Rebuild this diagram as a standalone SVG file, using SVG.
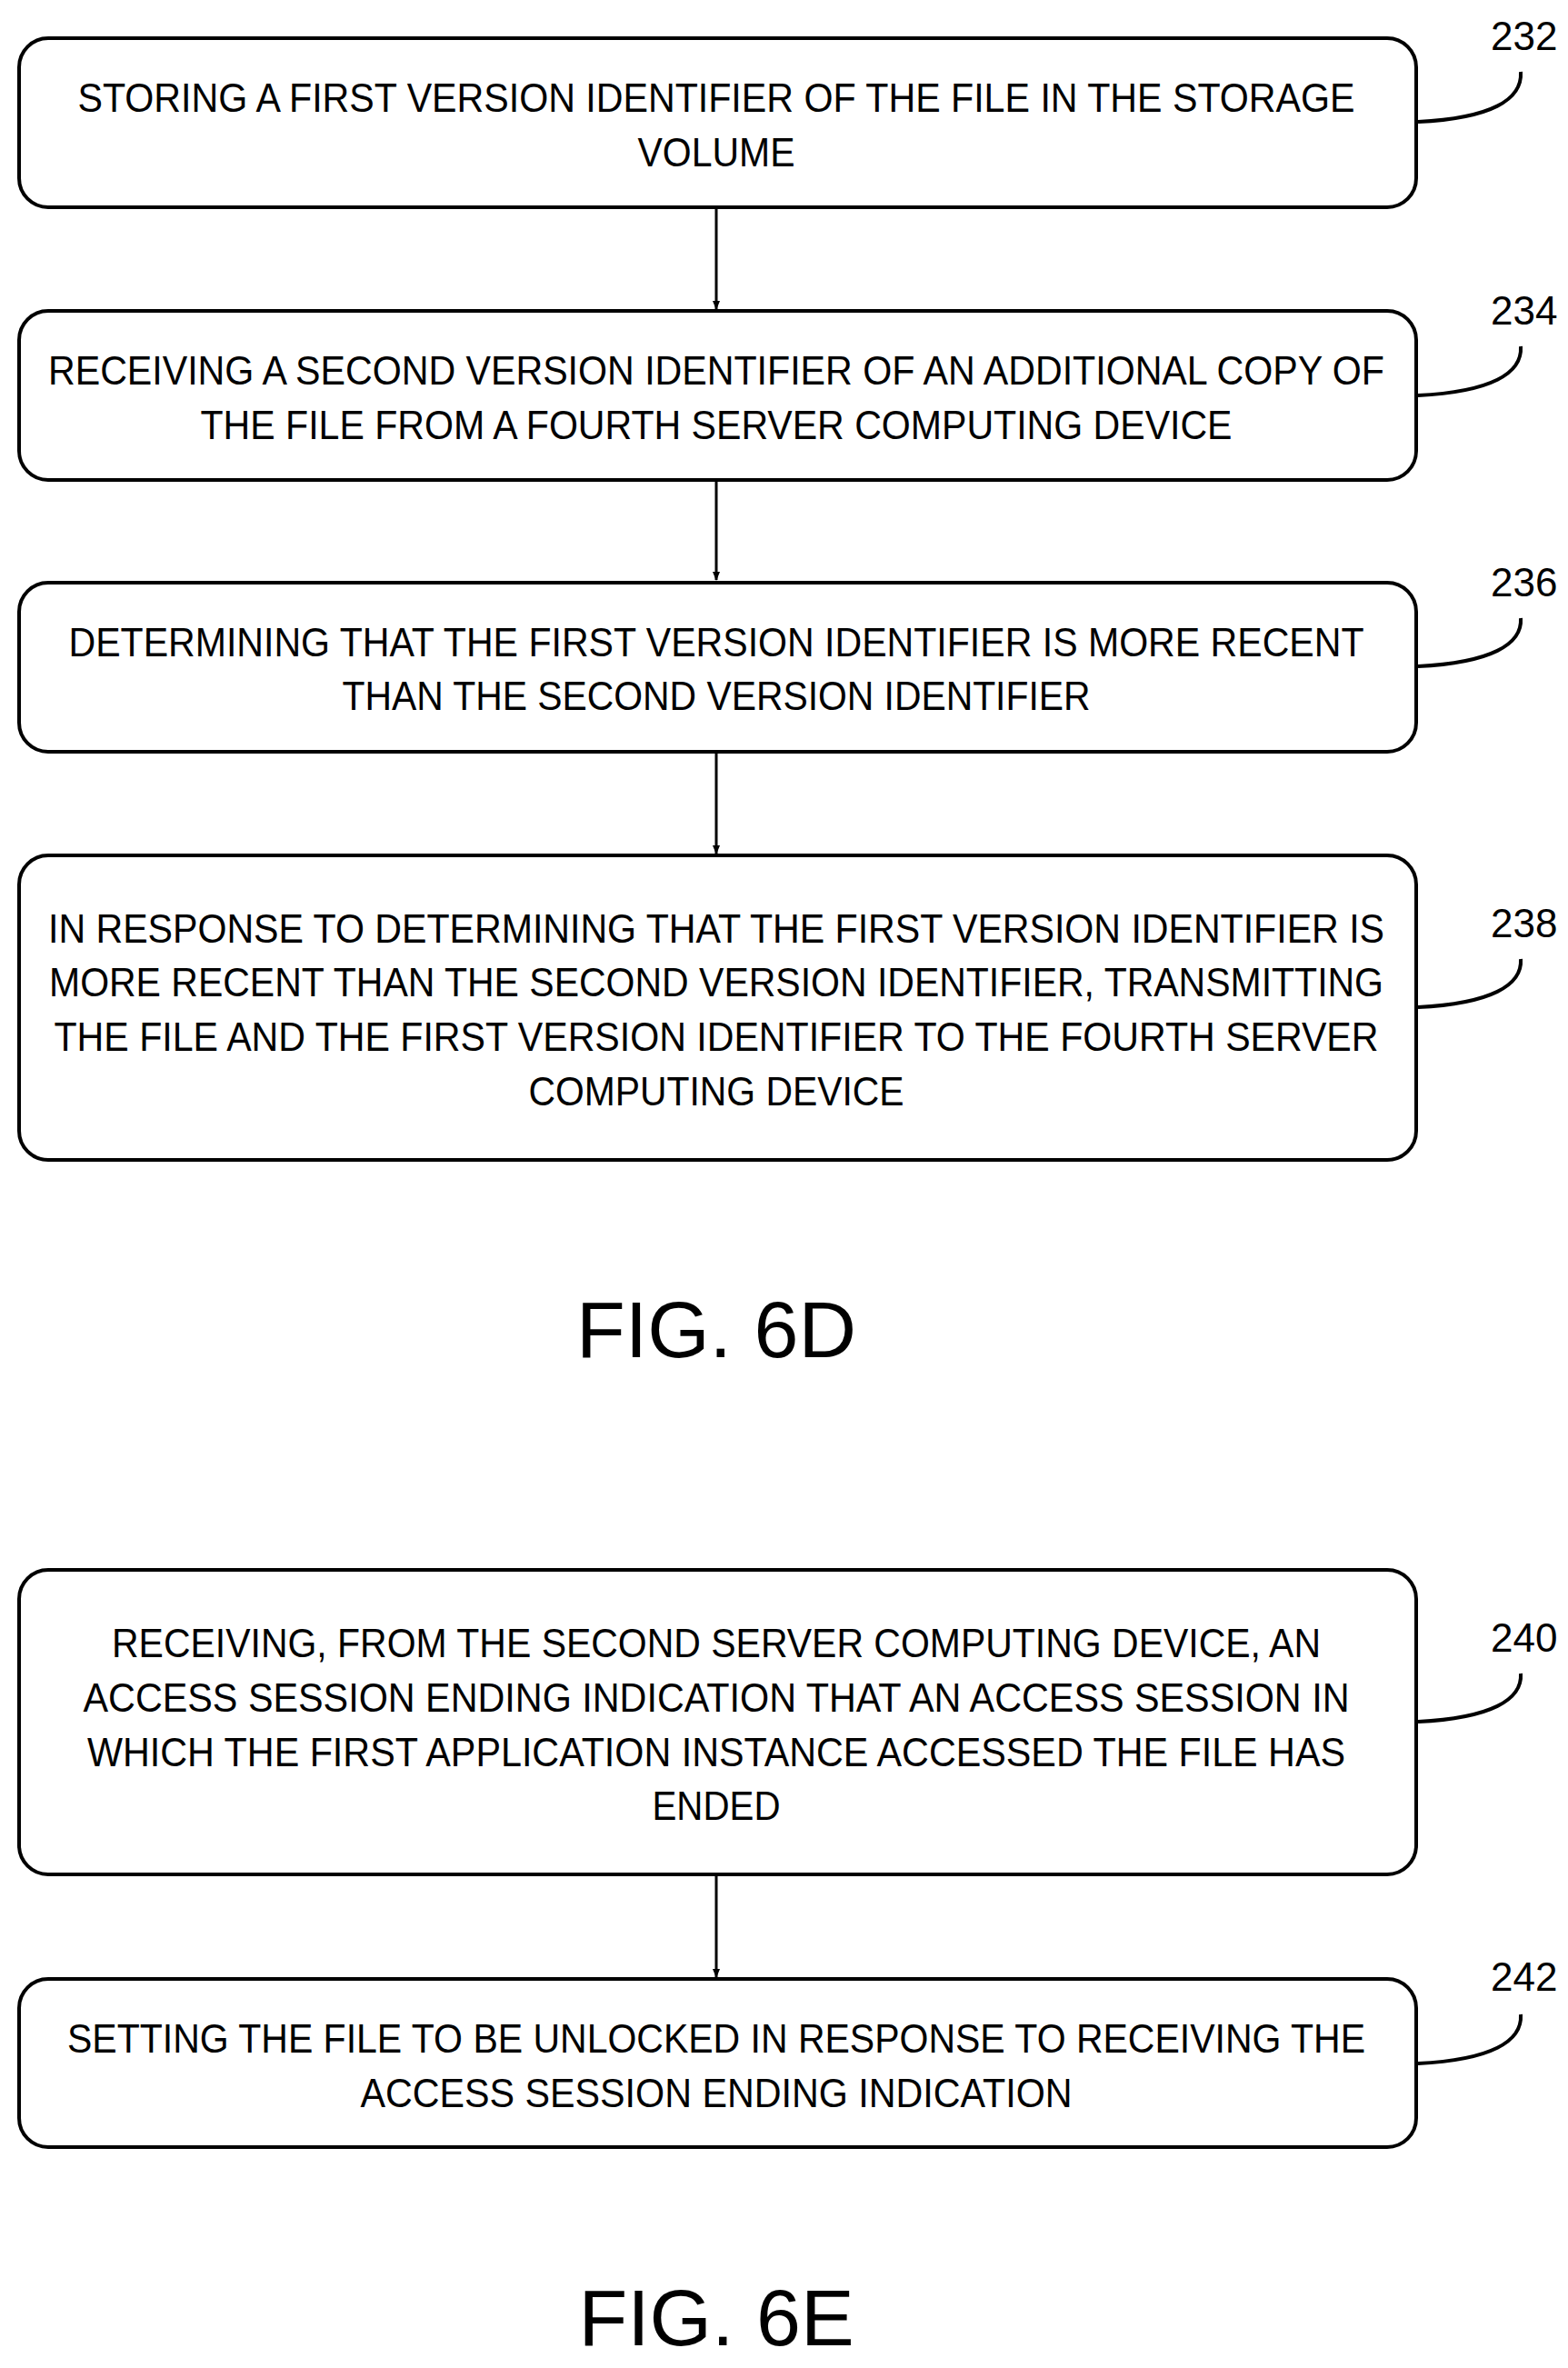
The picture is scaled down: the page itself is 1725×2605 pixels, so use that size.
<svg xmlns="http://www.w3.org/2000/svg" width="1725" height="2605" viewBox="0 0 1725 2605">
<style>
rect{fill:#fff;stroke:#000;stroke-width:4}
text{font-family:"Liberation Sans",Arial,sans-serif;font-size:44px;fill:#000}
.t{text-anchor:middle}
.fig{font-size:88px;text-anchor:middle}
.lead{fill:none;stroke:#000;stroke-width:4}
.c line{stroke:#000;stroke-width:3;marker-end:url(#ah)}
</style>
<defs><marker id="ah" markerWidth="10" markerHeight="10" refX="9" refY="5" orient="auto" markerUnits="userSpaceOnUse" viewBox="0 0 10 10"><path d="M0,1 L10,5 L0,9 z" fill="#000"/></marker></defs>
<rect x="0" y="0" width="1725" height="2605" style="stroke:none"/>
<g class="c">
<line x1="788" y1="229" x2="788" y2="340"/>
<line x1="788" y1="530" x2="788" y2="638"/>
<line x1="788" y1="828" x2="788" y2="939"/>
<line x1="788" y1="2064" x2="788" y2="2175"/>
</g>
<g id="n232"><rect x="21" y="42" width="1537" height="186" rx="32"/>
<text class="t" x="788" y="123" textLength="1405" lengthAdjust="spacingAndGlyphs">STORING A FIRST VERSION IDENTIFIER OF THE FILE IN THE STORAGE</text>
<text class="t" x="788" y="183" textLength="173" lengthAdjust="spacingAndGlyphs">VOLUME</text>
<text x="1640" y="55">232</text><path class="lead" d="M1560,134 C1640,130 1675,110 1673,79"/></g>
<g id="n234"><rect x="21" y="342" width="1537" height="186" rx="32"/>
<text class="t" x="788" y="423" textLength="1470" lengthAdjust="spacingAndGlyphs">RECEIVING A SECOND VERSION IDENTIFIER OF AN ADDITIONAL COPY OF</text>
<text class="t" x="788" y="483" textLength="1135" lengthAdjust="spacingAndGlyphs">THE FILE FROM A FOURTH SERVER COMPUTING DEVICE</text>
<text x="1640" y="357">234</text><path class="lead" d="M1560,435 C1640,431 1675,411 1673,381"/></g>
<g id="n236"><rect x="21" y="641" width="1537" height="186" rx="32"/>
<text class="t" x="788" y="722" textLength="1425" lengthAdjust="spacingAndGlyphs">DETERMINING THAT THE FIRST VERSION IDENTIFIER IS MORE RECENT</text>
<text class="t" x="788" y="781" textLength="823" lengthAdjust="spacingAndGlyphs">THAN THE SECOND VERSION IDENTIFIER</text>
<text x="1640" y="656">236</text><path class="lead" d="M1560,733 C1640,729 1675,709 1673,680"/></g>
<g id="n238"><rect x="21" y="941" width="1537" height="335" rx="32"/>
<text class="t" x="788" y="1037" textLength="1470" lengthAdjust="spacingAndGlyphs">IN RESPONSE TO DETERMINING THAT THE FIRST VERSION IDENTIFIER IS</text>
<text class="t" x="788" y="1096" textLength="1468" lengthAdjust="spacingAndGlyphs">MORE RECENT THAN THE SECOND VERSION IDENTIFIER, TRANSMITTING</text>
<text class="t" x="788" y="1156" textLength="1457" lengthAdjust="spacingAndGlyphs">THE FILE AND THE FIRST VERSION IDENTIFIER TO THE FOURTH SERVER</text>
<text class="t" x="788" y="1216" textLength="413" lengthAdjust="spacingAndGlyphs">COMPUTING DEVICE</text>
<text x="1640" y="1031">238</text><path class="lead" d="M1560,1108 C1640,1104 1675,1084 1673,1055"/></g>
<text class="fig" x="788" y="1493">FIG. 6D</text>
<g id="n240"><rect x="21" y="1727" width="1537" height="335" rx="32"/>
<text class="t" x="788" y="1823" textLength="1330" lengthAdjust="spacingAndGlyphs">RECEIVING, FROM THE SECOND SERVER COMPUTING DEVICE, AN</text>
<text class="t" x="788" y="1883" textLength="1393" lengthAdjust="spacingAndGlyphs">ACCESS SESSION ENDING INDICATION THAT AN ACCESS SESSION IN</text>
<text class="t" x="788" y="1943" textLength="1384" lengthAdjust="spacingAndGlyphs">WHICH THE FIRST APPLICATION INSTANCE ACCESSED THE FILE HAS</text>
<text class="t" x="788" y="2002" textLength="141" lengthAdjust="spacingAndGlyphs">ENDED</text>
<text x="1640" y="1817">240</text><path class="lead" d="M1560,1894 C1640,1890 1675,1870 1673,1841"/></g>
<g id="n242"><rect x="21" y="2177" width="1537" height="185" rx="32"/>
<text class="t" x="788" y="2258" textLength="1428" lengthAdjust="spacingAndGlyphs">SETTING THE FILE TO BE UNLOCKED IN RESPONSE TO RECEIVING THE</text>
<text class="t" x="788" y="2318" textLength="783" lengthAdjust="spacingAndGlyphs">ACCESS SESSION ENDING INDICATION</text>
<text x="1640" y="2190">242</text><path class="lead" d="M1560,2270 C1640,2266 1675,2246 1673,2216"/></g>
<text class="fig" x="788" y="2580">FIG. 6E</text>
</svg>
